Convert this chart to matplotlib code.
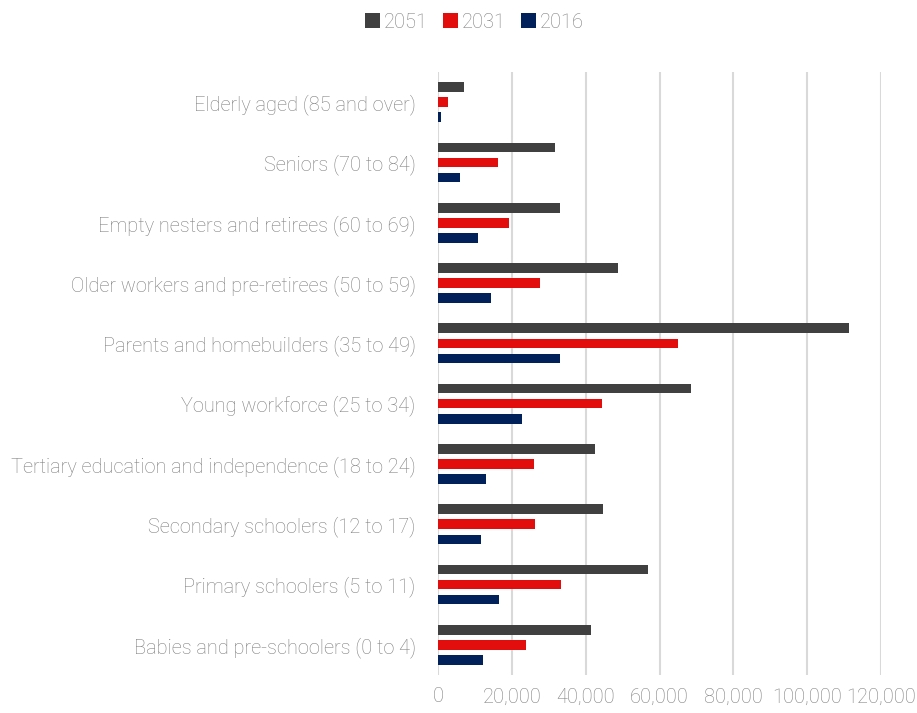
import numpy as np
import matplotlib.pyplot as plt

categories = ["Babies and pre-schoolers (0 to 4)",
              "Primary schoolers (5 to 11)",
              "Secondary schoolers (12 to 17)",
              "Tertiary education and independence (18 to 24)",
              "Young workforce (25 to 34)",
              "Parents and homebuilders (35 to 49)",
              "Older workers and pre-retirees (50 to 59)",
              "Empty nesters and retirees (60 to 69)",
              "Seniors (70 to 84)",
              "Elderly aged (85 and over)"]
v2051 = [41400, 56900, 44700, 42500, 68500, 111300, 48800, 33000, 31700, 7000]
v2031 = [23800, 33300, 26300, 26000, 44400, 65000, 27600, 19200, 16250, 2700]
v2016 = [12200, 16500, 11650, 13000, 22750, 33000, 14400, 10800, 6000, 800]
xticks = [0, 20000, 40000, 60000, 80000, 100000, 120000]

plt.rcParams['font.family'] = ['Roboto', 'DejaVu Sans']
grey = '#7f7f7f'

fig = plt.figure(figsize=(9.17, 7.13), dpi=100)
ax = fig.add_axes([0.4776, 0.0533, 0.4832, 0.8457])

y = np.arange(len(categories))
h = 0.16
b1 = ax.barh(y + 0.25, v2051, height=h, color='#404040', label='2051', zorder=3)
b2 = ax.barh(y, v2031, height=h, color='#e20e0e', label='2031', zorder=3)
b3 = ax.barh(y - 0.25, v2016, height=h, color='#00215a', label='2016', zorder=3)

ax.set_ylim(-0.5, len(categories) - 0.5)
ax.set_xlim(0, 120000)
ax.set_xticks(xticks)
ax.set_xticklabels([f"{t:,}" for t in xticks])
ax.set_yticks(y)
ax.set_yticklabels(categories, va='center_baseline')
ax.tick_params(axis='both', length=0, labelsize=14.4, labelcolor=grey)
ax.tick_params(axis='x', pad=9)
ax.tick_params(axis='y', pad=16)
for lbl in ax.get_xticklabels() + ax.get_yticklabels():
    lbl.set_fontweight('light')
ax.grid(axis='x', color='#d9d9d9', linewidth=1.5, zorder=0)
for s in ax.spines.values():
    s.set_visible(False)

leg = fig.legend(handles=[b1, b2, b3], loc='center', bbox_to_anchor=(0.5175, 0.969),
                 ncol=3, frameon=False, fontsize=14.4, handlelength=0.75, handleheight=0.75,
                 columnspacing=0.75, handletextpad=0.2)
for t in leg.get_texts():
    t.set_color(grey)
    t.set_fontweight('light')

fig.savefig('out.png', dpi=100)
